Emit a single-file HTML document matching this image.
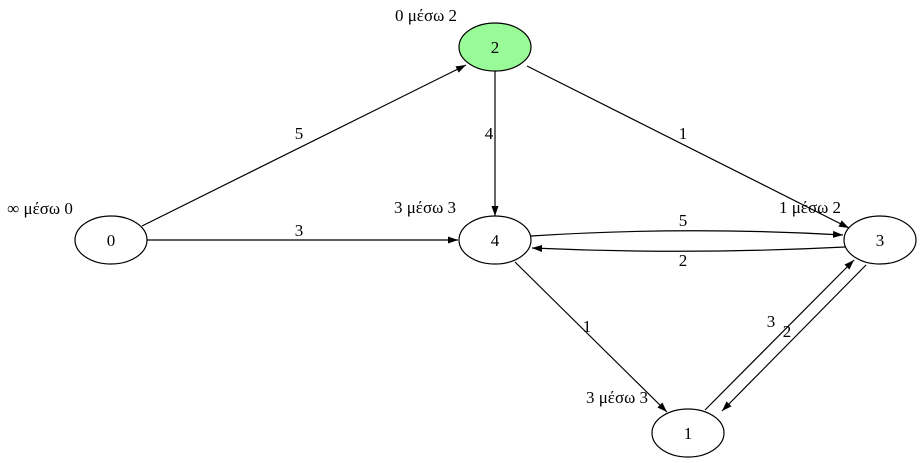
<!DOCTYPE html>
<html><head><meta charset="utf-8"><style>html,body{margin:0;padding:0;background:#fff}svg{display:block}</style></head>
<body>
<svg width="921" height="463" viewBox="0 0 921 463" xmlns="http://www.w3.org/2000/svg" font-family="Liberation Serif, serif" font-size="17">
<defs><marker id="a" viewBox="0 0 10 10" refX="10" refY="5" markerWidth="10" markerHeight="10" markerUnits="userSpaceOnUse" orient="auto"><path d="M0,1.5 L10,5 L0,8.5 z" fill="#000"/></marker></defs>
<g stroke="#000" fill="none" stroke-width="1.2">
<path d="M142,226 L466,65" marker-end="url(#a)"/>
<path d="M147,240 L458,240" marker-end="url(#a)"/>
<path d="M495,70 L495,216" marker-end="url(#a)"/>
<path d="M527,66 L849,228" marker-end="url(#a)"/>
<path d="M531,236 Q688,226 843,235" marker-end="url(#a)"/>
<path d="M845,247 Q688,255 532,248" marker-end="url(#a)"/>
<path d="M515,262 L667,412" marker-end="url(#a)"/>
<path d="M705,410 L854,260" marker-end="url(#a)"/>
<path d="M866,265 L722,411" marker-end="url(#a)"/>
</g>
<g stroke="#000" stroke-width="1.2">
<ellipse cx="111" cy="240" rx="36" ry="24" fill="#fff"/>
<ellipse cx="495" cy="47" rx="36" ry="24" fill="#98fb98"/>
<ellipse cx="495" cy="240" rx="36" ry="24" fill="#fff"/>
<ellipse cx="880" cy="240" rx="36" ry="24" fill="#fff"/>
<ellipse cx="688" cy="433" rx="36" ry="24" fill="#fff"/>
</g>
<g text-anchor="middle" fill="#000">
<text x="111" y="246">0</text>
<text x="495" y="53">2</text>
<text x="495" y="246">4</text>
<text x="880" y="246">3</text>
<text x="688" y="439">1</text>
<text x="426" y="21">0 μέσω 2</text>
<text x="40" y="214">∞ μέσω 0</text>
<text x="425" y="213">3 μέσω 3</text>
<text x="810" y="213">1 μέσω 2</text>
<text x="617" y="403">3 μέσω 3</text>
<text x="299" y="139">5</text>
<text x="299" y="236">3</text>
<text x="489" y="139">4</text>
<text x="683" y="139">1</text>
<text x="683" y="226">5</text>
<text x="683" y="266">2</text>
<text x="587" y="332">1</text>
<text x="771" y="327">3</text>
<text x="787" y="337">2</text>
</g>
</svg>
</body></html>
